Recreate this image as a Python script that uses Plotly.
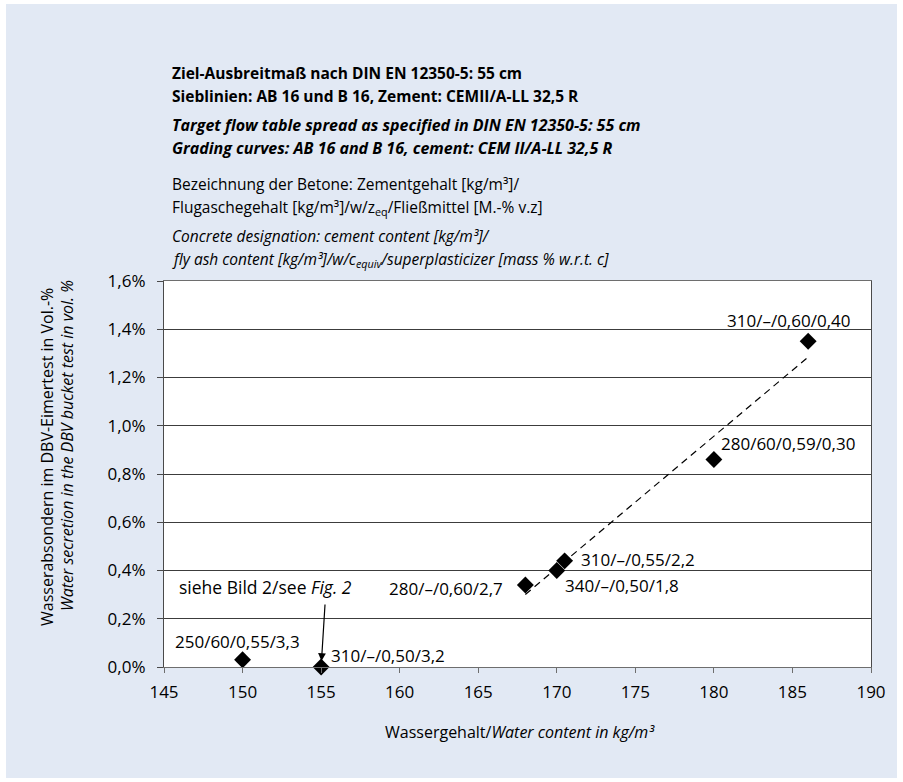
import numpy as np
import plotly.graph_objects as go

# Water content [kg/m³] and water secretion in the DBV bucket test [fraction]
water_content = [186, 180, 170.5, 170, 168, 150, 155]
secretion = [0.0135, 0.0086, 0.0044, 0.0040, 0.0034, 0.0003, 0.0]
mix_labels = [
    "310/–/0,60/0,40",
    "280/60/0,59/0,30",
    "310/–/0,55/2,2",
    "340/–/0,50/1,8",
    "280/–/0,60/2,7",
    "250/60/0,55/3,3",
    "310/–/0,50/3,2",
]
x_ticks = [145, 150, 155, 160, 165, 170, 175, 180, 185, 190]
y_ticks = [0.0, 0.002, 0.004, 0.006, 0.008, 0.010, 0.012, 0.014, 0.016]

# label placement: (xanchor, xshift, yshift) in pixels relative to each marker
label_place = [
    ("center", -20, 21),
    ("left", 5, 16),
    ("left", 14, 1),
    ("left", 6, -15),
    ("right", -20, -4),
    ("center", -5, 18),
    ("left", 8, 12),
]

FONT = "Open Sans"
BG = "#e2e9f4"
W, H = 903, 782
L, R, T, B = 164, 32, 281, 115
PW, PH = W - L - R, H - T - B


def px(x):
    return (x - L) / PW


def py(y):
    return (H - B - y) / PH


fig = go.Figure()

# linear trend through the mixes with water content >= 165 kg/m³
wc = np.array(water_content)
sc = np.array(secretion)
sel = wc >= 165
k, d = np.polyfit(wc[sel], sc[sel], 1)
tx = np.array([wc[sel].min(), wc[sel].max()])
fig.add_trace(go.Scatter(
    x=tx, y=k * tx + d, mode="lines",
    line=dict(color="black", width=1.2, dash="7px,5px"),
    hoverinfo="skip", showlegend=False,
))

fig.add_trace(go.Scatter(
    x=water_content, y=secretion, mode="markers",
    marker=dict(symbol="diamond", size=13, color="black"),
    cliponaxis=False, showlegend=False,
))

annotations = []
for xv, yv, lab, (anc, xs, ys) in zip(water_content, secretion, mix_labels, label_place):
    annotations.append(dict(
        x=xv, y=yv, xref="x", yref="y", text=lab, showarrow=False,
        xanchor=anc, yanchor="middle", xshift=xs, yshift=ys,
        font=dict(family=FONT, size=17, color="black"),
    ))

# reference to the detailed figure
annotations.append(dict(
    x=px(177), y=py(587), xref="paper", yref="paper",
    text="siehe Bild 2/see <i>Fig. 2</i>", showarrow=False,
    xanchor="left", yanchor="middle",
    font=dict(family=FONT, size=17.5, color="black"),
))
annotations.append(dict(
    x=155, y=0.0, xref="x", yref="y", text="", showarrow=True,
    ax=4, ay=-64, arrowhead=2, arrowsize=1.3, arrowwidth=1.2,
    arrowcolor="black", standoff=6,
))

# heading block
head = [
    (73, "<b>Ziel-Ausbreitmaß nach DIN EN 12350-5: 55 cm</b>", 15.5),
    (96, "<b>Sieblinien: AB 16 und B 16, Zement: CEMII/A-LL 32,5 R</b>", 15.5),
    (125, "<b><i>Target flow table spread as specified in DIN EN 12350-5: 55 cm</i></b>", 16),
    (148, "<b><i>Grading curves: AB 16 and B 16, cement: CEM II/A-LL 32,5 R</i></b>", 16),
    (184, "Bezeichnung der Betone: Zementgehalt [kg/m³]/", 15.5),
    (207, "Flugaschegehalt [kg/m³]/w/z<sub>eq</sub>/Fließmittel [M.-% v.z]", 15.5),
    (236, "<i>Concrete designation: cement content [kg/m³]/</i>", 15.5),
    (259, "<i>fly ash content [kg/m³]/w/c<sub>equiv</sub>/superplasticizer [mass % w.r.t. c]</i>", 15.5),
]
for yy, txt, fs in head:
    annotations.append(dict(
        x=px(170), y=py(yy), xref="paper", yref="paper", text=txt,
        showarrow=False, xanchor="left", yanchor="middle",
        font=dict(family=FONT, size=fs, color="black"),
    ))

# axis titles
annotations.append(dict(
    x=px(520), y=py(732), xref="paper", yref="paper",
    text="Wassergehalt/<i>Water content in kg/m³</i>", showarrow=False,
    xanchor="center", yanchor="middle",
    font=dict(family=FONT, size=16, color="black"),
))
annotations.append(dict(
    x=px(47), y=py(457), xref="paper", yref="paper",
    text="Wasserabsondern im DBV-Eimertest in Vol.-%", showarrow=False,
    textangle=-90, xanchor="center", yanchor="middle",
    font=dict(family=FONT, size=16, color="black"),
))
annotations.append(dict(
    x=px(67), y=py(446), xref="paper", yref="paper",
    text="<i>Water secretion in the DBV bucket test in vol. %</i>", showarrow=False,
    textangle=-90, xanchor="center", yanchor="middle",
    font=dict(family=FONT, size=16, color="black"),
))

# thin white frame round the tinted panel
shapes = []
for x0, y0, x1, y1 in [(0, 0, W, 4), (0, H - 4, W, H), (0, 0, 6, H), (W - 6, 0, W, H)]:
    shapes.append(dict(
        type="rect", xref="paper", yref="paper",
        x0=px(x0), x1=px(x1), y0=py(y1), y1=py(y0),
        fillcolor="white", line=dict(width=0), layer="above",
    ))

fig.update_layout(
    width=W, height=H,
    margin=dict(l=L, r=R, t=T, b=B, pad=0),
    paper_bgcolor=BG, plot_bgcolor="white",
    separators=",.",
    annotations=annotations, shapes=shapes,
    font=dict(family=FONT, size=17, color="black"),
)
fig.update_xaxes(
    range=[145, 190], tickvals=x_ticks, showgrid=False, zeroline=False,
    showline=True, linecolor="#6e6e6e", linewidth=1.2, mirror=True,
    ticks="outside", ticklen=5, tickcolor="#6e6e6e", tickwidth=1.2,
    tickfont=dict(family=FONT, size=17, color="black"), ticklabelstandoff=4,
)
fig.update_yaxes(
    range=[0, 0.016], tickvals=y_ticks, tickformat=".1%",
    showgrid=True, gridcolor="#3c3c3c", gridwidth=1, zeroline=False,
    showline=True, linecolor="#4a4a4a", linewidth=1.2, mirror=True,
    ticks="outside", ticklen=6, tickcolor="#4a4a4a", tickwidth=1.2,
    tickfont=dict(family=FONT, size=17, color="black"), ticklabelstandoff=8,
)

fig.write_html("out.html")
